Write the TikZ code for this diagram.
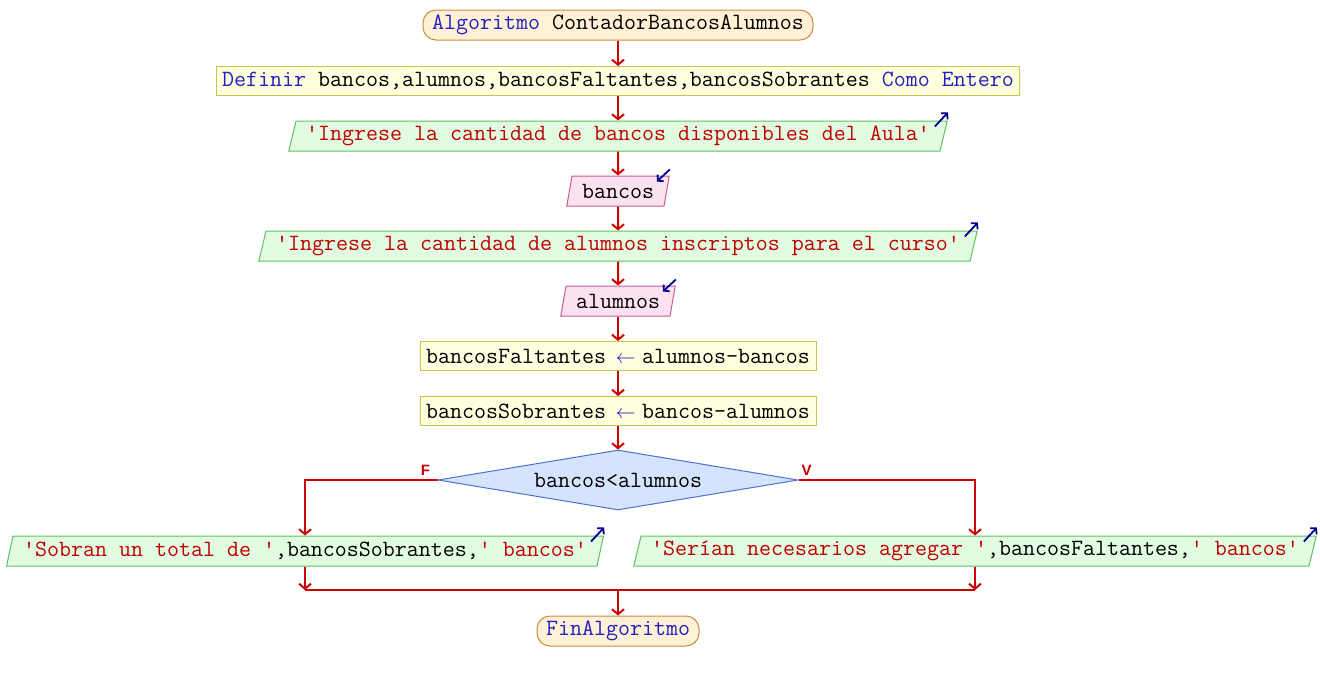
\documentclass[tikz,border=0pt]{standalone}
\usepackage{fontspec}
\usepackage{graphicx}
\setsansfont{Liberation Sans}
\usetikzlibrary{shapes.geometric,arrows.meta}

\definecolor{rojoflecha}{RGB}{204,0,0}
\definecolor{azulclave}{RGB}{32,32,192}
\definecolor{rojotexto}{RGB}{190,0,0}
\definecolor{azulicono}{RGB}{0,0,144}
\definecolor{fondoterm}{RGB}{255,240,214}
\definecolor{bordeterm}{RGB}{200,140,64}
\definecolor{fondoproc}{RGB}{255,255,224}
\definecolor{bordeproc}{RGB}{200,196,80}
\definecolor{fondosal}{RGB}{226,252,226}
\definecolor{bordesal}{RGB}{96,192,96}
\definecolor{fondoent}{RGB}{252,226,240}
\definecolor{bordeent}{RGB}{196,96,144}
\definecolor{fondodec}{RGB}{212,228,252}
\definecolor{bordedec}{RGB}{80,112,208}

\newcommand{\clave}[1]{\textcolor{azulclave}{#1}}
\newcommand{\cadena}[1]{\textcolor{rojotexto}{#1}}
\newcommand{\asigna}{\clave{\makebox[12pt]{\hspace{3pt}\resizebox{20pt}{!}{$\leftarrow$}}}}

\tikzset{
  base/.style={draw, line width=1pt, font=\ttfamily\fontsize{23.3}{26}\selectfont, minimum height=30pt, inner ysep=0pt},
  terminal/.style={base, fill=fondoterm, draw=bordeterm, rounded corners=13pt, inner xsep=9pt},
  proceso/.style={base, fill=fondoproc, draw=bordeproc, inner xsep=6pt, minimum height=29pt},
  salida/.style={base, trapezium, trapezium left angle=70, trapezium right angle=110, trapezium stretches=true, fill=fondosal, draw=bordesal, inner xsep=10pt},
  entrada/.style={salida, fill=fondoent, draw=bordeent},
  decision/.style={base, diamond, aspect=6, inner sep=0pt, minimum width=360pt, minimum height=60pt, fill=fondodec, draw=bordedec},
  flujo/.style={draw=rojoflecha, line width=2pt, -{Straight Barb[length=5pt,width=12pt]}},
  linea/.style={draw=rojoflecha, line width=2pt},
  icono/.style={draw=azulicono, line width=1.8pt, -{Straight Barb[length=4pt,width=9pt]}},
  rotulo/.style={text=rojoflecha, font=\sffamily\bfseries\fontsize{15}{15}\selectfont, inner sep=0pt}
}

\begin{document}
\begin{tikzpicture}[x=1pt,y=-1pt]
  \useasboundingbox (0,0) rectangle (1320,680);

  % Inicio y definiciones
  \node[terminal] (inicio) at (618,25) {\clave{Algoritmo} ContadorBancosAlumnos};
  \node[proceso] (defs) at (618,81) {\clave{Definir} bancos,alumnos,bancosFaltantes,bancosSobrantes \clave{Como Entero}};

  % Lectura de datos
  \node[salida] (msgbancos) at (618,136) {\cadena{'Ingrese la cantidad de bancos disponibles del Aula'}};
  \node[entrada] (leerbancos) at (618,191) {bancos};
  \node[salida] (msgalumnos) at (618,246) {\cadena{'Ingrese la cantidad de alumnos inscriptos para el curso'}};
  \node[entrada] (leeralumnos) at (618,301) {alumnos};

  % Calculos
  \node[proceso] (calcfalt) at (618,356) {bancosFaltantes \asigna{} alumnos-bancos};
  \node[proceso] (calcsobr) at (618,411) {bancosSobrantes \asigna{} bancos-alumnos};

  % Decision y salidas
  \node[decision] (cond) at (618,480) {bancos<alumnos};
  \node[salida] (salsobr) at (305,551) {\cadena{'Sobran un total de '},bancosSobrantes,\cadena{' bancos'}};
  \node[salida] (salfalt) at (975,551) {\cadena{'Serían necesarios agregar '},bancosFaltantes,\cadena{' bancos'}};
  \node[terminal] (fin) at (618,631) {\clave{FinAlgoritmo}};
  \coordinate (union) at (618,590);

  % Flechas
  \draw[flujo] (inicio) -- (defs);
  \draw[flujo] (defs) -- (msgbancos);
  \draw[flujo] (msgbancos) -- (leerbancos);
  \draw[flujo] (leerbancos) -- (msgalumnos);
  \draw[flujo] (msgalumnos) -- (leeralumnos);
  \draw[flujo] (leeralumnos) -- (calcfalt);
  \draw[flujo] (calcfalt) -- (calcsobr);
  \draw[flujo] (calcsobr) -- (cond);
  \draw[flujo] (cond.west) -| (salsobr.north);
  \draw[flujo] (cond.east) -| (salfalt.north);
  \node[rotulo] (etqF) at ([shift={(-12,-10)}]cond.west) {F};
  \node[rotulo] (etqV) at ([shift={(8,-10)}]cond.east) {V};
  \draw[flujo] (salsobr) -- (salsobr |- union);
  \draw[flujo] (salfalt) -- (salfalt |- union);
  \draw[linea] (salsobr |- union) -- (salfalt |- union);
  \draw[flujo] (union) -- (fin);

  % Iconos de entrada y salida
  \foreach \n in {msgbancos,msgalumnos,salsobr,salfalt}
    \draw[icono] ([shift={(-13,6)}]\n.top right corner) -- ([shift={(0,-8)}]\n.top right corner);
  \foreach \n in {leerbancos,leeralumnos}
    \draw[icono] ([shift={(0,-6)}]\n.top right corner) -- ([shift={(-13,6)}]\n.top right corner);
\end{tikzpicture}
\end{document}
